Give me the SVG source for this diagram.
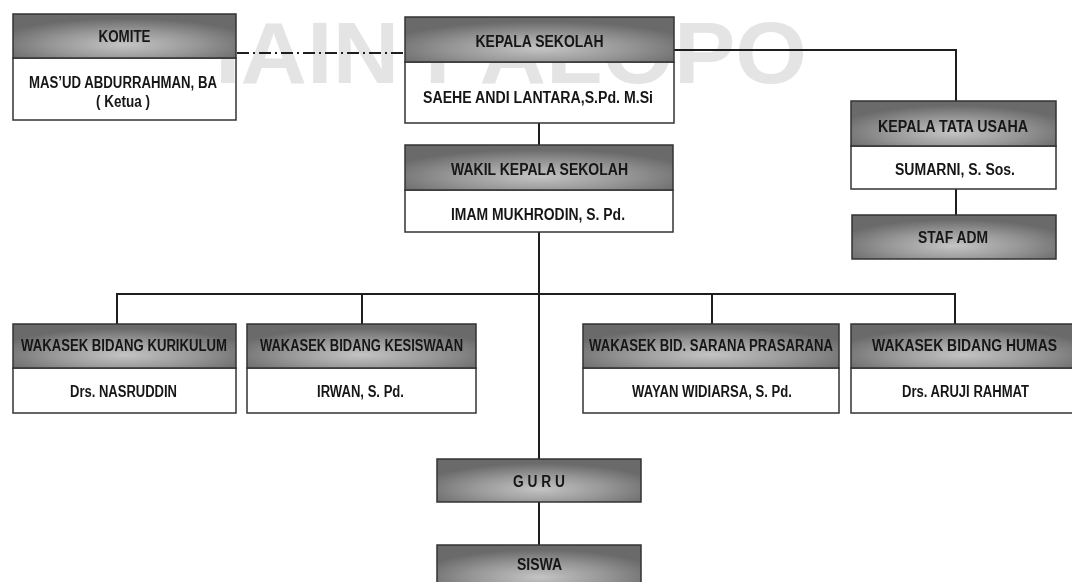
<svg xmlns="http://www.w3.org/2000/svg" width="1072" height="582" viewBox="0 0 1072 582">
  <defs>
    <radialGradient id="g" cx="0.5" cy="0.7" r="0.6">
      <stop offset="0" stop-color="#c4c4c4"/>
      <stop offset="0.55" stop-color="#969696"/>
      <stop offset="1" stop-color="#6a6a6a"/>
    </radialGradient>
    <style>
      .hdr{fill:url(#g);stroke:#333;stroke-width:1.5}
      .body{fill:#fff;stroke:#333;stroke-width:1.5}
      .t{font-family:"Liberation Sans",Arial,sans-serif;font-weight:bold;font-size:16px;fill:#161616;text-anchor:middle}
      .ln{stroke:#1e1e1e;stroke-width:2;fill:none}
      .dash{stroke:#1e1e1e;stroke-width:2;fill:none;stroke-dasharray:12 4 2 4}
      .wm{font-family:"Liberation Sans",Arial,sans-serif;font-weight:bold;font-size:87px;fill:#e4e4e4;mix-blend-mode:darken}
    </style>
  </defs>
  <rect width="1072" height="582" fill="#fff"/>

  <g id="connectors">
    <path class="dash" d="M237 53 H405"/>
    <path class="ln" d="M674 50 H956 V101"/>
    <path class="ln" d="M539 123 V145"/>
    <path class="ln" d="M539 232 V459"/>
    <path class="ln" d="M117 324 V294 H955 V324"/>
    <path class="ln" d="M362 294 V324"/>
    <path class="ln" d="M712 294 V324"/>
    <path class="ln" d="M956 189 V215"/>
    <path class="ln" d="M539 502 V545"/>
  </g>

  <g id="komite">
    <rect class="body" x="13" y="58" width="223" height="62"/>
    <rect class="hdr" x="13" y="14" width="223" height="44"/>
    <text class="t" x="124.5" y="42" textLength="52" lengthAdjust="spacingAndGlyphs">KOMITE</text>
    <text class="t" x="123" y="88" textLength="188" lengthAdjust="spacingAndGlyphs">MAS’UD ABDURRAHMAN, BA</text>
    <text class="t" x="123" y="107" textLength="54" lengthAdjust="spacingAndGlyphs">( Ketua )</text>
  </g>

  <g id="kepala-sekolah">
    <rect class="body" x="405" y="62" width="269" height="61"/>
    <rect class="hdr" x="405" y="17" width="269" height="45"/>
    <text class="t" x="539.5" y="47" textLength="128" lengthAdjust="spacingAndGlyphs">KEPALA SEKOLAH</text>
    <text class="t" x="538" y="103" textLength="230" lengthAdjust="spacingAndGlyphs">SAEHE ANDI LANTARA,S.Pd.  M.Si</text>
  </g>

  <g id="wakil-kepala-sekolah">
    <rect class="body" x="405" y="190" width="268" height="42"/>
    <rect class="hdr" x="405" y="145" width="268" height="45"/>
    <text class="t" x="539.5" y="175" textLength="177" lengthAdjust="spacingAndGlyphs">WAKIL KEPALA SEKOLAH</text>
    <text class="t" x="538" y="220" textLength="174" lengthAdjust="spacingAndGlyphs">IMAM MUKHRODIN, S. Pd.</text>
  </g>

  <g id="kepala-tata-usaha">
    <rect class="body" x="851" y="146" width="205" height="43"/>
    <rect class="hdr" x="851" y="101" width="205" height="45"/>
    <text class="t" x="953" y="132" textLength="150" lengthAdjust="spacingAndGlyphs">KEPALA TATA USAHA</text>
    <text class="t" x="955" y="175" textLength="120" lengthAdjust="spacingAndGlyphs">SUMARNI, S. Sos.</text>
  </g>

  <g id="staf-adm">
    <rect class="hdr" x="852" y="215" width="204" height="44"/>
    <text class="t" x="953" y="243" textLength="70" lengthAdjust="spacingAndGlyphs">STAF ADM</text>
  </g>

  <g id="wakasek-kurikulum">
    <rect class="body" x="13" y="368" width="223" height="45"/>
    <rect class="hdr" x="13" y="324" width="223" height="44"/>
    <text class="t" x="124" y="351" textLength="206" lengthAdjust="spacingAndGlyphs">WAKASEK BIDANG KURIKULUM</text>
    <text class="t" x="123.5" y="397" textLength="107" lengthAdjust="spacingAndGlyphs">Drs. NASRUDDIN</text>
  </g>

  <g id="wakasek-kesiswaan">
    <rect class="body" x="247" y="368" width="229" height="45"/>
    <rect class="hdr" x="247" y="324" width="229" height="44"/>
    <text class="t" x="361.5" y="351" textLength="203" lengthAdjust="spacingAndGlyphs">WAKASEK BIDANG KESISWAAN</text>
    <text class="t" x="360.5" y="397" textLength="87" lengthAdjust="spacingAndGlyphs">IRWAN, S. Pd.</text>
  </g>

  <g id="wakasek-sarana">
    <rect class="body" x="583" y="368" width="256" height="45"/>
    <rect class="hdr" x="583" y="324" width="256" height="44"/>
    <text class="t" x="711" y="351" textLength="244" lengthAdjust="spacingAndGlyphs">WAKASEK BID. SARANA PRASARANA</text>
    <text class="t" x="712" y="397" textLength="160" lengthAdjust="spacingAndGlyphs">WAYAN WIDIARSA, S. Pd.</text>
  </g>

  <g id="wakasek-humas">
    <rect class="body" x="851" y="368" width="226" height="45"/>
    <rect class="hdr" x="851" y="324" width="226" height="44"/>
    <text class="t" x="964.5" y="351" textLength="185" lengthAdjust="spacingAndGlyphs">WAKASEK BIDANG  HUMAS</text>
    <text class="t" x="965.5" y="397" textLength="127" lengthAdjust="spacingAndGlyphs">Drs. ARUJI RAHMAT</text>
  </g>

  <g id="guru">
    <rect class="hdr" x="437" y="459" width="204" height="43"/>
    <text class="t" x="539" y="487" textLength="52" lengthAdjust="spacingAndGlyphs">G U R U</text>
  </g>

  <g id="siswa">
    <rect class="hdr" x="437" y="545" width="204" height="46"/>
    <text class="t" x="539.5" y="570" textLength="45" lengthAdjust="spacingAndGlyphs">SISWA</text>
  </g>

  <text class="wm" x="215" y="83" textLength="592" lengthAdjust="spacingAndGlyphs">IAIN PALOPO</text>
</svg>
